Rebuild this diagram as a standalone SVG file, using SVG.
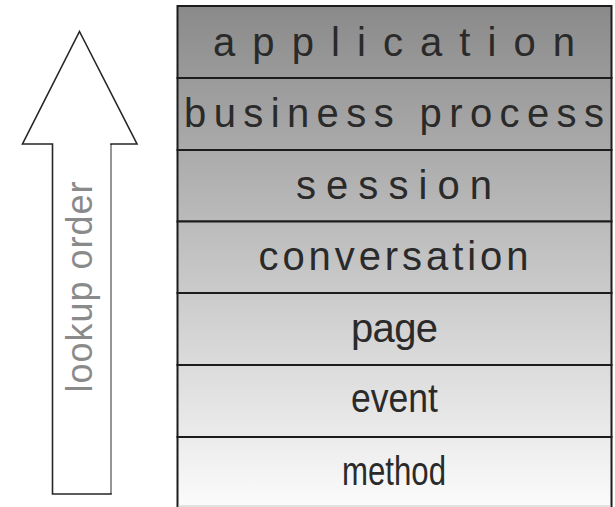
<svg xmlns="http://www.w3.org/2000/svg" width="615" height="507" viewBox="0 0 615 507">
  <style>
    .layer { stroke: #1c1c1c; stroke-width: 2; fill: url(#stackFill); }
    .label { font-family: "Liberation Sans", Arial, sans-serif; font-size: 40px; fill: #2a2a2a; text-anchor: middle; }
    .arrow { fill: #ffffff; stroke: #262626; stroke-width: 1.6; stroke-linejoin: miter; }
    .arrow-text { font-family: "Liberation Sans", Arial, sans-serif; font-size: 36px; fill: #8a8a8a; text-anchor: middle; }
  </style>
  <defs>
    <!-- one shade ramp shared by the whole stack: dark at the top, near white at the bottom -->
    <linearGradient id="stackFill" gradientUnits="userSpaceOnUse" x1="0" y1="6" x2="0" y2="506">
      <stop offset="0" stop-color="#8a8a8a"/>
      <stop offset="1" stop-color="#fbfbfb"/>
    </linearGradient>
  </defs>

  <rect x="0" y="0" width="615" height="507" fill="#ffffff"/>

  <!-- upward "lookup order" arrow -->
  <g id="lookup-arrow">
    <polygon class="arrow" points="79.5,31.5 137,144 111,144 111,494 52.5,494 52.5,144 22.5,144"/>
    <line x1="111" y1="145" x2="111" y2="493" stroke="#a8a8a8" stroke-width="1.6"/>
    <text class="arrow-text" transform="translate(91.5,287) rotate(-90)" textLength="211" lengthAdjust="spacing">lookup order</text>
  </g>

  <!-- scope stack, widest scope on top -->
  <g id="scope-application">
    <rect class="layer" x="177.5" y="6" width="434" height="72"/>
    <text class="label" x="394" y="56" textLength="362" lengthAdjust="spacing">application</text>
  </g>
  <g id="scope-business-process">
    <rect class="layer" x="177.5" y="78" width="434" height="72"/>
    <text class="label" x="394" y="127" textLength="420" lengthAdjust="spacing">business process</text>
  </g>
  <g id="scope-session">
    <rect class="layer" x="177.5" y="150" width="434" height="71.5"/>
    <text class="label" x="394" y="198.5" textLength="196" lengthAdjust="spacing">session</text>
  </g>
  <g id="scope-conversation">
    <rect class="layer" x="177.5" y="221.5" width="434" height="71.5"/>
    <text class="label" x="393.5" y="269.5" textLength="270" lengthAdjust="spacing">conversation</text>
  </g>
  <g id="scope-page">
    <rect class="layer" x="177.5" y="293" width="434" height="72"/>
    <text class="label" x="394.5" y="342" textLength="87" lengthAdjust="spacing">page</text>
  </g>
  <g id="scope-event">
    <rect class="layer" x="177.5" y="365" width="434" height="72"/>
    <text class="label" x="394.5" y="412" textLength="87" lengthAdjust="spacingAndGlyphs">event</text>
  </g>
  <g id="scope-method">
    <rect class="layer" x="177.5" y="437" width="434" height="72"/>
    <line x1="178.5" y1="506" x2="610.5" y2="506" stroke="#c8c8c8" stroke-width="1"/>
    <text class="label" x="394" y="485" textLength="104" lengthAdjust="spacingAndGlyphs">method</text>
  </g>
</svg>
